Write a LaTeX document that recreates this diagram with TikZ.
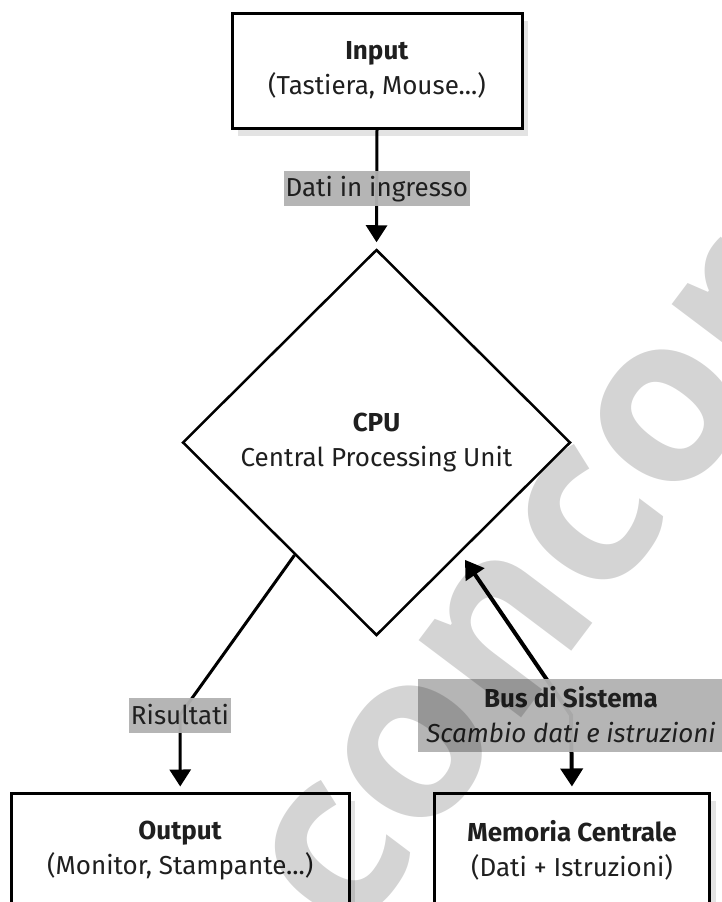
\documentclass[tikz,border=0pt]{standalone}
\usepackage{fontspec}
\setmainfont{Fira Sans}
\newfontfamily\wmfont{Open Sans}
\usetikzlibrary{shapes.geometric,arrows.meta,shadows,calc}
\begin{document}
\begin{tikzpicture}[x=1pt,y=-1pt,
  every node/.style={font=\fontsize{26}{35}\selectfont, text=black!88},
  box/.style={draw=black, line width=3pt, fill=white, minimum width=290pt, minimum height=115pt, align=center,
     drop shadow={shadow xshift=6pt, shadow yshift=-8pt, fill=black!11, opacity=1}},
  cpubox/.style={diamond, draw=black, line width=2.5pt, fill=white, minimum width=388pt, minimum height=386pt, align=center, inner sep=0pt},
  lbl/.style={fill=black!30, fill opacity=0.95, text opacity=1, inner sep=2pt, minimum height=35pt, align=center},
  conn/.style={line width=3pt, -{Triangle[width=21pt,length=17pt]}},
  busconn/.style={line width=4pt, {Triangle[width=22pt,length=18pt]}-{Triangle[width=22pt,length=18pt]}},
]
\useasboundingbox (0,0) rectangle (722,902);
\clip (0,0) rectangle (722,902);
\fill[white] (0,0) rectangle (722,902);

\node[box] (input) at (377,70.5) {\textbf{Input}\\(Tastiera, Mouse...)};
\node[cpubox] (cpu) at (376.5,442.5) {\textbf{CPU}\\Central Processing Unit};
\node[box, minimum width=337.5pt] (output) at (180.25,850.5) {\textbf{Output}\\(Monitor, Stampante...)};
\node[box, minimum width=275pt] (mem) at (572,850.5) {\textbf{Memoria Centrale}\\(Dati + Istruzioni)};

% Input -> CPU
\draw[conn, shorten >=6pt] (input.south) -- node[lbl, pos=0.50] {Dati in ingresso} (cpu.north);

% CPU -> Output
\coordinate (rbend) at (180,715);
\coordinate (rstart) at ($(cpu.west)!0.58!(cpu.south)$);
\draw[conn, shorten >=5pt] (rstart) -- (rbend) -- (output.north);
\node[lbl] (rlabel) at (rbend) {Risultati};

% Bus
\coordinate (bbend) at (571,715);
\coordinate (bstart) at ($(cpu.south)!0.43!(cpu.east)$);
\draw[busconn, shorten <=8pt, shorten >=5pt] (bstart) -- (bbend) -- (mem.north);
\node[lbl, minimum width=306pt, minimum height=73pt, inner sep=0pt] (blabel) at (bbend) {\textbf{Bus di Sistema}\\\textit{Scambio dati e istruzioni}};

% watermark
\node[rotate=53, anchor=base west, inner sep=0pt, font=\wmfont\bfseries\fontsize{235}{235}\selectfont, text=black, text opacity=0.17] (wm) at (350,945) {concor};
\end{tikzpicture}
\end{document}
